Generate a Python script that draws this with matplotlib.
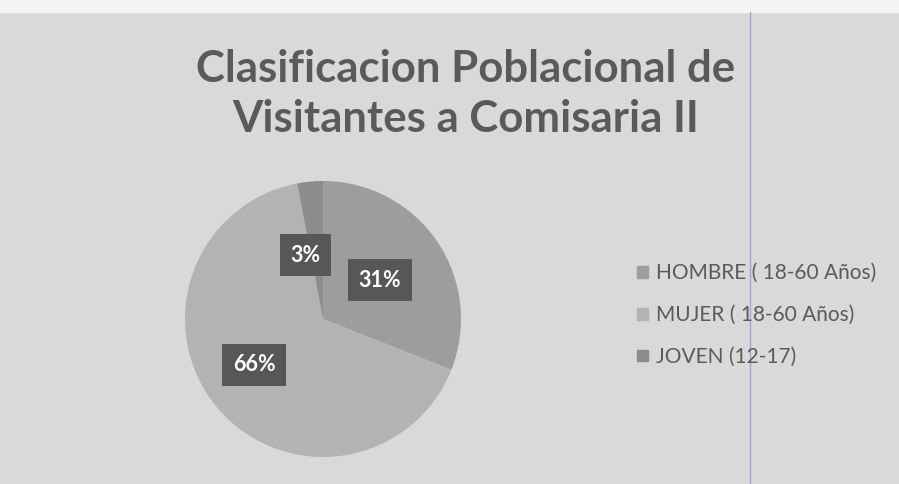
import matplotlib.pyplot as plt
import numpy as np
from matplotlib.patches import Rectangle
from matplotlib.lines import Line2D

categorias = ['HOMBRE ( 18-60 Años)', 'MUJER ( 18-60 Años)', 'JOVEN (12-17)']
porcentajes = [31, 66, 3]
colores = ['#9d9d9d', '#b3b3b3', '#8c8c8c']
titulo = 'Clasificacion Poblacional de\nVisitantes a Comisaria II'

# ajustes de posicion de etiquetas (fraccion del radio, giro en grados)
etiqueta_r = [0.50, 0.60, 0.48]
etiqueta_giro = [0, -6, 10]

plt.rcParams['font.family'] = ['Lato', 'DejaVu Sans']

W, H = 899, 484
fig = plt.figure(figsize=(W / 100, H / 100), dpi=100)
fig.patch.set_facecolor('#d9d9d9')

# franja blanca superior y linea azul del escaneo
fig.add_artist(Rectangle((0, 1 - 12 / H), 1, 12 / H, transform=fig.transFigure,
                         color='#f4f4f4', zorder=0))
fig.add_artist(Line2D([750 / W, 750 / W], [0, 1 - 12 / H], transform=fig.transFigure,
                      color='#9aa6cc', lw=0.9, zorder=5))

fig.text(466 / W, 1 - 94 / H, titulo, ha='center', va='center', fontsize=31.5,
         fontweight='bold', color='#5a5a5a', linespacing=1.3)

cx, cy, r = 323, 319, 138
ax = fig.add_axes([(cx - r) / W, 1 - (cy + r) / H, 2 * r / W, 2 * r / H])
ax.set_facecolor('none')
wedges, _ = ax.pie(porcentajes, colors=colores, startangle=90, counterclock=False,
                   radius=1, wedgeprops=dict(linewidth=0))
ax.set_xlim(-1, 1)
ax.set_ylim(-1, 1)
ax.set_aspect('equal')
ax.axis('off')

for w, p, fr, giro in zip(wedges, porcentajes, etiqueta_r, etiqueta_giro):
    ang = np.deg2rad((w.theta1 + w.theta2) / 2 + giro)
    ax.text(fr * np.cos(ang), fr * np.sin(ang), f'{p}%', ha='center', va='center',
            fontsize=15.5, fontweight='bold', color='white',
            bbox=dict(boxstyle='square,pad=0.5', fc='#575757', ec='none'))

handles = [Rectangle((0, 0), 1, 1, color=c) for c in colores]
fig.legend(handles, categorias, loc='center left', bbox_to_anchor=(0.688, 1 - 315 / H),
           frameon=False, fontsize=15, labelcolor='#5a5a5a', handlelength=0.5,
           handleheight=0.5, handletextpad=0.4, labelspacing=1.05)

fig.savefig('out.png', dpi=100, facecolor=fig.get_facecolor())
